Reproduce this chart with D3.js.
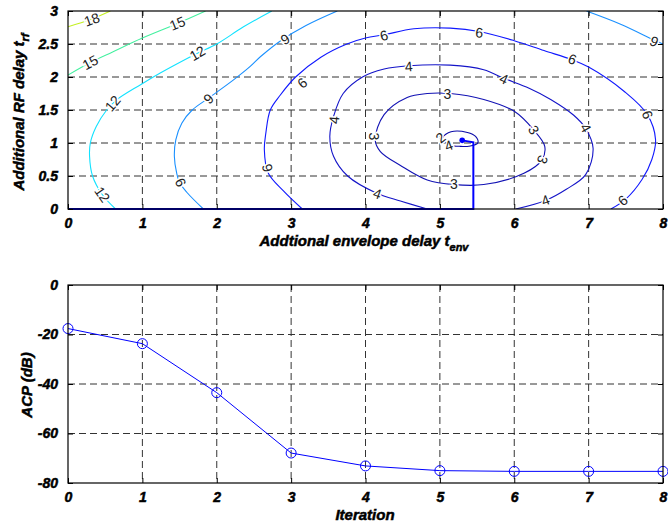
<!DOCTYPE html>
<html>
<head>
<meta charset="utf-8">
<style>
body { margin: 0; background: #fff; }
svg text { font-family: "Liberation Sans", Arial, sans-serif; }
.tk text { font-weight: bold; font-style: italic; font-size: 14px; fill: #000; stroke: #000; stroke-width: 0.5px; }
.ttl { font-weight: bold; font-style: italic; font-size: 15px; fill: #000; stroke: #000; stroke-width: 0.5px; }
.grid line { stroke: #333; stroke-dasharray: 7,4; }
.clab { font-size: 14px; fill: #222; paint-order: stroke; stroke: #fff; stroke-width: 3px; }
</style>
</head>
<body>
<svg width="668" height="527"></svg>
<script src="https://cdn.jsdelivr.net/npm/d3@7"></script>
<script>

// contour lines of ACP over (t_env, t_rf)
var c18 = [[0,2.76],[0.3,2.87],[0.57,3.0]];
var c15 = [[0,2.03],[0.3,2.22],[0.6,2.38],[1.0,2.59],[1.47,2.81],[1.85,3.0]];
var c12 = [[0.64,0],[0.46,0.22],[0.33,0.5],[0.29,0.8],[0.30,1.0],[0.38,1.25],[0.52,1.5],[0.65,1.65],[0.97,1.88],[1.24,2.06],[1.5,2.22],[1.74,2.36],[2.0,2.5],[2.36,2.76],[2.74,3.0]];
var c9a = [[1.82,0],[1.6,0.25],[1.5,0.4],[1.46,0.55],[1.43,0.8],[1.45,1.05],[1.53,1.3],[1.67,1.5],[1.89,1.68],[2.23,1.96],[2.45,2.16],[2.59,2.31],[2.86,2.55],[3.2,2.78],[3.62,3.0]];
var c9b = [[6.97,3.0],[7.43,2.8],[7.88,2.56],[8.0,2.5]];
var c6 = [[3.15,0],[2.9,0.27],[2.69,0.55],[2.64,0.9],[2.66,1.15],[2.72,1.5],[2.85,1.72],[3.06,2.0],[3.4,2.3],[3.75,2.5],[4.0,2.59],[4.25,2.64],[4.65,2.73],[5.14,2.74],[5.53,2.69],[6.0,2.55],[6.4,2.4],[6.78,2.26],[7.0,2.15],[7.48,1.78],[7.79,1.43],[7.9,1.05],[7.85,0.75],[7.72,0.45],[7.5,0.15],[7.3,0]];
var c4 = [[4.83,0],[4.47,0.12],[4.15,0.24],[3.76,0.5],[3.57,0.8],[3.52,1.1],[3.57,1.4],[3.7,1.75],[3.96,2.0],[4.25,2.12],[4.58,2.17],[5.14,2.18],[5.59,2.11],[5.86,1.98],[6.2,1.83],[6.49,1.66],[6.8,1.42],[6.96,1.22],[7.06,0.92],[6.96,0.52],[6.7,0.3],[6.42,0.13],[6.02,0]];
var c3 = [[4.13,1.05],[4.25,1.43],[4.56,1.69],[4.83,1.75],[5.14,1.75],[5.59,1.66],[6.0,1.48],[6.26,1.2],[6.41,0.95],[6.37,0.74],[6.13,0.54],[5.59,0.37],[5.19,0.37],[4.83,0.44],[4.47,0.66],[4.2,0.87]];
var c2 = [[5.04,1.08],[5.15,1.17],[5.37,1.16],[5.48,1.1],[5.51,1.0],[5.39,0.95],[5.26,0.95],[5.12,0.97]];

var contourLevels = [18, 15, 12, 9, 9, 6, 4, 3, 2];
var contourLines = [c18, c15, c12, c9a, c9b, c6, c4, c3, c2];
var contourClosed = [false, false, false, false, false, false, false, true, true];

// inline labels: [t_env, t_rf, text, angle]
var contourLabels = [
  [0.32,2.87,"18",-20],
  [0.30,2.22,"15",-28],[1.47,2.81,"15",-22],
  [0.46,0.22,"12",55],[0.6,1.6,"12",-50],[1.74,2.36,"12",-30],
  [1.51,0.4,"9",-115],[1.89,1.67,"9",-45],[2.92,2.57,"9",-30],[7.88,2.54,"9",25],
  [2.68,0.62,"6",-105],[3.15,1.91,"6",-40],[4.25,2.63,"6",-15],[5.53,2.67,"6",5],[6.78,2.27,"6",20],[7.79,1.43,"6",70],[7.46,0.13,"6",-40],
  [3.58,1.35,"4",-85],[4.58,2.16,"4",-5],[5.86,1.97,"4",25],[6.96,1.23,"4",60],[4.16,0.23,"4",20],[6.42,0.13,"4",-20],
  [5.1,1.74,"3",0],[4.11,1.1,"3",90],[6.26,1.2,"3",60],[6.38,0.75,"3",110],[5.19,0.37,"3",0],
  [5.01,1.08,"2",-40],[5.12,0.96,"4",-20]
];

// optimisation trajectory
var pathEnv = [0, 5.45, 5.45, 5.3];
var pathRf = [0, 0, 1.01, 1.04];

// ACP per iteration
var iterations = [0, 1, 2, 3, 4, 5, 6, 7, 8];
var acp = [-17.6, -23.7, -43.5, -67.9, -73.1, -75.0, -75.3, -75.3, -75.3];

var envTicks = [0, 1, 2, 3, 4, 5, 6, 7, 8];
var rfTicks = [0, 0.5, 1, 1.5, 2, 2.5, 3];
var acpTicks = [0, -20, -40, -60, -80];

var svg = d3.select("svg");
var left = 68, right = 663;

var color = d3.scaleOrdinal()
    .domain([18, 15, 12, 9, 6, 4, 3, 2])
    .range(["#c4f020", "#44f0a0", "#12e2ff", "#1a90ff", "#1018ff", "#1414c8", "#1212b4", "#0a0aa8"]);

function frame(g, x, y, xt, yt, top, bottom) {
  g.append("g").attr("class", "grid")
    .selectAll("line").data(xt.slice(1, -1)).enter().append("line")
      .attr("x1", x).attr("x2", x).attr("y1", top).attr("y2", bottom);
  g.append("g").attr("class", "grid")
    .selectAll("line").data(yt.filter(function(d) { return y(d) > top + 1 && y(d) < bottom - 1; })).enter().append("line")
      .attr("y1", y).attr("y2", y).attr("x1", left).attr("x2", right);
}

function axes(g, x, y, xt, yt, yfmt, top, bottom) {
  g.append("rect").attr("x", left).attr("y", top).attr("width", right - left).attr("height", bottom - top)
    .attr("fill", "none").attr("stroke", "#000").attr("stroke-width", 1.2);
  var ab = g.append("g").attr("class", "tk").attr("transform", "translate(0," + bottom + ")")
    .call(d3.axisBottom(x).tickValues(xt).tickSize(-5).tickPadding(12).tickFormat(d3.format("d")));
  var at = g.append("g").attr("transform", "translate(0," + top + ")")
    .call(d3.axisTop(x).tickValues(xt).tickSize(-5).tickFormat(""));
  var al = g.append("g").attr("class", "tk").attr("transform", "translate(" + left + ",0)")
    .call(d3.axisLeft(y).tickValues(yt).tickSize(-5).tickPadding(10).tickFormat(yfmt));
  var ar = g.append("g").attr("transform", "translate(" + right + ",0)")
    .call(d3.axisRight(y).tickValues(yt).tickSize(-5).tickFormat(""));
  [ab, at, al, ar].forEach(function(a) {
    a.select(".domain").remove();
    a.selectAll(".tick line").attr("stroke", "#000");
  });
  ab.selectAll(".tick text").attr("dy", "0.5em");
}

// ---------- top: contour map ----------
var top1 = 11, bot1 = 209;
var x1 = d3.scaleLinear().domain([0, 8]).range([left, right]);
var y1 = d3.scaleLinear().domain([0, 3]).range([bot1, top1]);
var g1 = svg.append("g");

svg.append("clipPath").attr("id", "clip1").append("rect")
  .attr("x", left).attr("y", top1).attr("width", right - left).attr("height", bot1 - top1);

frame(g1, x1, y1, envTicks, rfTicks, top1, bot1);

var lineOpen = d3.line().x(function(d) { return x1(d[0]); }).y(function(d) { return y1(d[1]); }).curve(d3.curveCatmullRom.alpha(0.5));
var lineClosed = d3.line().x(function(d) { return x1(d[0]); }).y(function(d) { return y1(d[1]); }).curve(d3.curveCatmullRomClosed.alpha(0.5));

g1.append("g").attr("clip-path", "url(#clip1)")
  .selectAll("path").data(contourLines).enter().append("path")
    .attr("d", function(d, i) { return contourClosed[i] ? lineClosed(d) : lineOpen(d); })
    .attr("fill", "none")
    .attr("stroke", function(d, i) { return color(contourLevels[i]); })
    .attr("stroke-width", 1.1);

g1.append("g").selectAll("text").data(contourLabels).enter().append("text")
  .attr("class", "clab")
  .attr("text-anchor", "middle").attr("dy", "0.35em")
  .attr("transform", function(d) { return "translate(" + x1(d[0]) + "," + y1(d[1]) + ") rotate(" + d[3] + ")"; })
  .text(function(d) { return d[2]; });

var traj = pathEnv.map(function(d, i) { return [d, pathRf[i]]; });
g1.append("path")
  .attr("d", d3.line().x(function(d) { return x1(d[0]); }).y(function(d) { return y1(d[1]); })(traj))
  .attr("fill", "none").attr("stroke", "#0000ff").attr("stroke-width", 2);
g1.append("circle")
  .attr("cx", x1(pathEnv[pathEnv.length - 1])).attr("cy", y1(pathRf[pathRf.length - 1]))
  .attr("r", 2.8).attr("fill", "#0000ff");

axes(g1, x1, y1, envTicks, rfTicks, function(d) { return d; }, top1, bot1);

var xl1 = svg.append("text").attr("class", "ttl").attr("x", 364).attr("y", 246).attr("text-anchor", "middle");
xl1.append("tspan").text("Addtional envelope delay t");
xl1.append("tspan").attr("dy", 5).attr("font-size", 11).text("env");

var yl1 = svg.append("text").attr("class", "ttl").attr("text-anchor", "middle")
  .attr("transform", "translate(24,112) rotate(-90)");
yl1.append("tspan").text("Additional RF delay t");
yl1.append("tspan").attr("dy", 5).attr("font-size", 11).text("rf");

// ---------- bottom: ACP vs iteration ----------
var top2 = 285, bot2 = 483;
var x2 = d3.scaleLinear().domain([0, 8]).range([left, right]);
var y2 = d3.scaleLinear().domain([-80, 0]).range([bot2, top2]);
var g2 = svg.append("g");

frame(g2, x2, y2, iterations, acpTicks, top2, bot2);

g2.append("path")
  .datum(iterations)
  .attr("d", d3.line().x(function(d) { return x2(d); }).y(function(d, i) { return y2(acp[i]); }))
  .attr("fill", "none").attr("stroke", "#0000ff").attr("stroke-width", 1);

g2.selectAll("circle.m").data(iterations).enter().append("circle")
  .attr("class", "m")
  .attr("cx", function(d) { return x2(d); })
  .attr("cy", function(d, i) { return y2(acp[i]); })
  .attr("r", 5).attr("fill", "none").attr("stroke", "#0000ff").attr("stroke-width", 1);

axes(g2, x2, y2, iterations, acpTicks, function(d) { return d; }, top2, bot2);

svg.append("text").attr("class", "ttl").attr("x", 365).attr("y", 520).attr("text-anchor", "middle").text("Iteration");
svg.append("text").attr("class", "ttl").attr("text-anchor", "middle")
  .attr("transform", "translate(32,385) rotate(-90)").text("ACP (dB)");

</script>
</body>
</html>
